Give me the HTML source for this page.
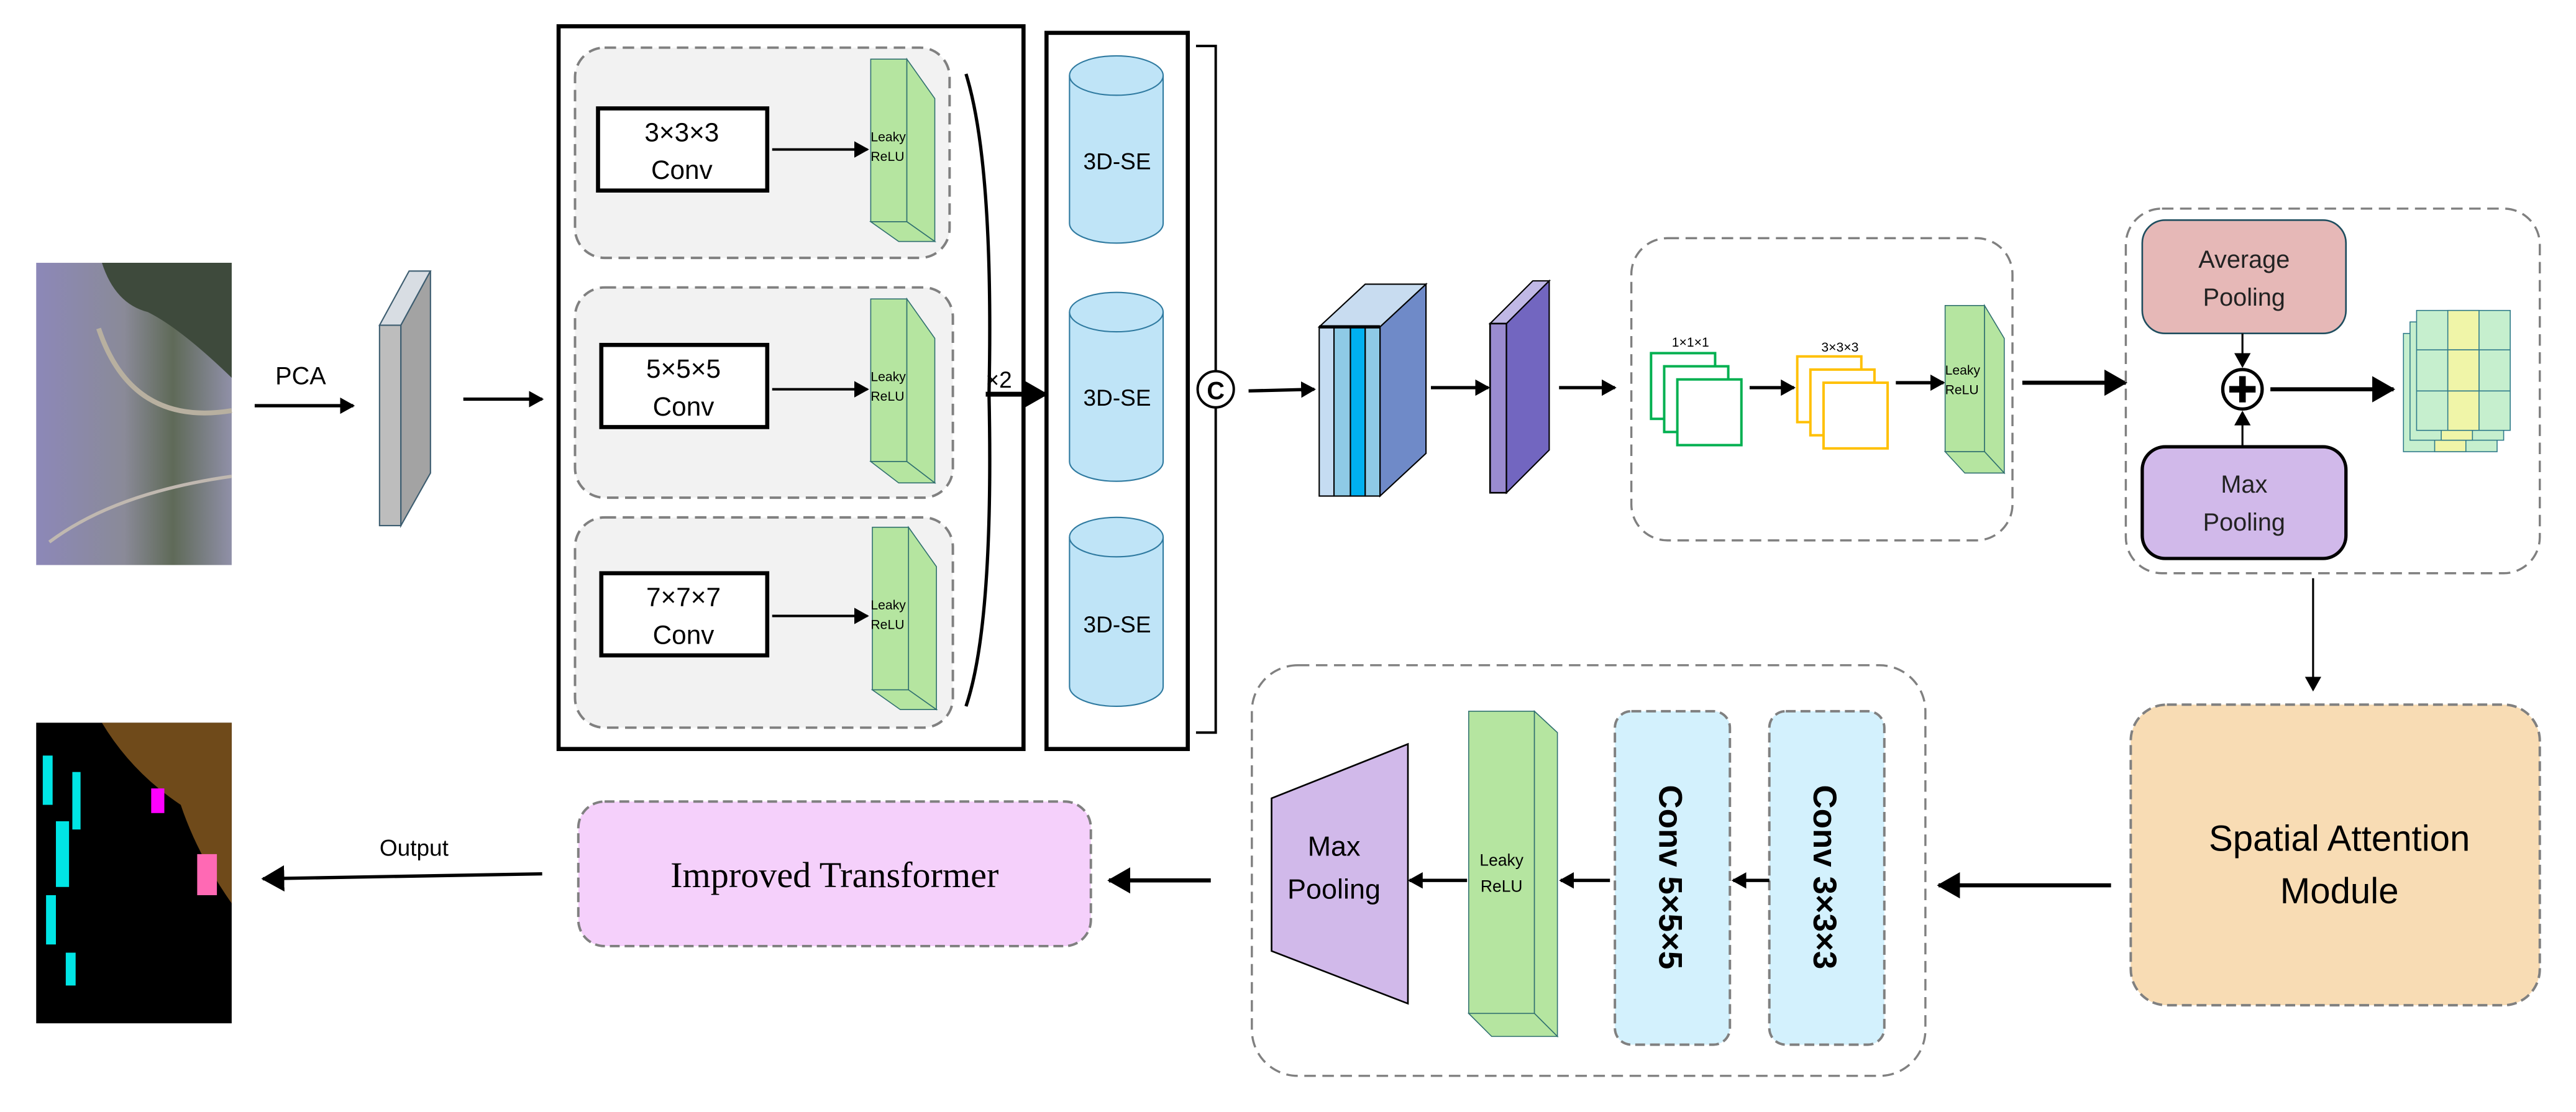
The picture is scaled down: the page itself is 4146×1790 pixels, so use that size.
<!DOCTYPE html>
<html><head><meta charset="utf-8"><style>html,body{margin:0;padding:0;background:#fff}svg{display:block}</style></head><body>
<svg width="4146" height="1790" viewBox="0 0 1568 677" xmlns="http://www.w3.org/2000/svg" font-family="Liberation Sans, sans-serif">
<defs>
<marker id="ah" markerWidth="10" markerHeight="10" refX="8" refY="5" orient="auto" markerUnits="userSpaceOnUse"><path d="M0,0 L9,5 L0,10 z" fill="#000"/></marker>
<marker id="ahb" markerWidth="16" markerHeight="16" refX="13" refY="8" orient="auto" markerUnits="userSpaceOnUse"><path d="M0,0 L14,8 L0,16 z" fill="#000"/></marker>
<linearGradient id="sat" x1="0" y1="0" x2="1" y2="0"><stop offset="0" stop-color="#8c88b8"/><stop offset="0.45" stop-color="#8a8a98"/><stop offset="0.7" stop-color="#5f6a58"/><stop offset="1" stop-color="#9090a8"/></linearGradient>
</defs>
<!-- satellite image -->
<rect x="22" y="160" width="119" height="184" fill="url(#sat)"/>
<path d="M62,160 L141,160 L141,230 Q110,200 90,190 Q70,185 62,160z" fill="#3e4a3c"/>
<path d="M60,200 Q80,260 141,250" stroke="#b8b0a0" stroke-width="3" fill="none"/>
<path d="M30,330 Q70,300 141,290" stroke="#c0b8b0" stroke-width="2" fill="none"/>
<!-- output map -->
<rect x="22" y="440" width="119" height="183" fill="#000"/>
<path d="M62,440 L141,440 L141,550 Q120,520 110,490 Q80,470 62,440z" fill="#6f4a1a"/>
<g fill="#00e5e5"><rect x="26" y="460" width="6" height="30"/><rect x="34" y="500" width="8" height="40"/><rect x="28" y="545" width="6" height="30"/><rect x="44" y="470" width="5" height="35"/><rect x="40" y="580" width="6" height="20"/></g>
<rect x="120" y="520" width="12" height="25" fill="#ff69b4"/><rect x="92" y="480" width="8" height="15" fill="#ff00ff"/>
<!-- PCA -->
<text x="183" y="234" font-size="15" text-anchor="middle">PCA</text>
<line x1="155" y1="247" x2="215" y2="247" stroke="#000" stroke-width="2" marker-end="url(#ah)"/>
<polygon points="231,198 244,198 262,165 249,165" fill="#d8dde3" stroke="#3d5d70" stroke-width="0.8"/>
<rect x="231" y="198" width="13" height="122" fill="#bdbdbd" stroke="#3d5d70" stroke-width="0.8"/>
<polygon points="244,198 262,165 262,288 244,320" fill="#a3a3a3" stroke="#3d5d70" stroke-width="0.8"/>
<line x1="282" y1="243" x2="330" y2="243" stroke="#000" stroke-width="2" marker-end="url(#ah)"/>
<!-- box 1 -->
<rect x="340" y="16" width="283" height="440" fill="#fff" stroke="#000" stroke-width="2.5"/>
<g fill="#f2f2f2" stroke="#808080" stroke-width="1.5" stroke-dasharray="7,4">
<rect x="350" y="29" width="228" height="128" rx="18"/>
<rect x="350" y="175" width="230" height="128" rx="18"/>
<rect x="350" y="315" width="230" height="128" rx="18"/>
</g>
<g font-size="16" text-anchor="middle">
<rect x="364" y="66" width="103" height="50" fill="#fff" stroke="#000" stroke-width="2.5"/>
<text x="415" y="86">3×3×3</text><text x="415" y="109">Conv</text>
<rect x="366" y="210" width="101" height="50" fill="#fff" stroke="#000" stroke-width="2.5"/>
<text x="416" y="230">5×5×5</text><text x="416" y="253">Conv</text>
<rect x="366" y="349" width="101" height="50" fill="#fff" stroke="#000" stroke-width="2.5"/>
<text x="416" y="369">7×7×7</text><text x="416" y="392">Conv</text>
</g>
<g stroke="#000" stroke-width="1.5"><line x1="470" y1="91" x2="528" y2="91" marker-end="url(#ah)"/><line x1="470" y1="237" x2="528" y2="237" marker-end="url(#ah)"/><line x1="470" y1="375" x2="528" y2="375" marker-end="url(#ah)"/></g>
<g stroke="#2f6f6f" stroke-width="0.6" fill="#b5e5a0">
<rect x="530" y="36" width="22" height="99"/><polygon points="552,36 569,60 569,147 552,135"/><polygon points="530,135 552,135 569,147 547,147"/>
<rect x="530" y="182" width="22" height="99"/><polygon points="552,182 569,206 569,294 552,281"/><polygon points="530,281 552,281 569,294 547,294"/>
<rect x="531" y="321" width="22" height="99"/><polygon points="553,321 570,345 570,432 553,420"/><polygon points="531,420 553,420 570,432 548,432"/>
</g>
<g font-size="8" font-family="Liberation Sans, sans-serif"><text x="530" y="86">Leaky</text><text x="530" y="98">ReLU</text><text x="530" y="232">Leaky</text><text x="530" y="244">ReLU</text><text x="530" y="371">Leaky</text><text x="530" y="383">ReLU</text></g>
<path d="M588,45 Q605,100 602,240 Q605,380 588,430" fill="none" stroke="#000" stroke-width="2"/>
<text x="600" y="236" font-size="14">×2</text>
<line x1="600" y1="240" x2="637" y2="240" stroke="#000" stroke-width="3" marker-end="url(#ahb)"/>
<!-- box 2 -->
<rect x="637" y="20" width="86" height="436" fill="#fff" stroke="#000" stroke-width="2.5"/>
<g fill="#bfe4f7" stroke="#2f7aa0" stroke-width="0.8">
<path d="M651,46 L651,136 A28.5,12 0 0 0 708,136 L708,46"/><ellipse cx="679.5" cy="46" rx="28.5" ry="12"/>
<path d="M651,190 L651,281 A28.5,12 0 0 0 708,281 L708,190"/><ellipse cx="679.5" cy="190" rx="28.5" ry="12"/>
<path d="M651,327 L651,418 A28.5,12 0 0 0 708,418 L708,327"/><ellipse cx="679.5" cy="327" rx="28.5" ry="12"/>
</g>
<g font-size="14" text-anchor="middle"><text x="680" y="103">3D-SE</text><text x="680" y="247">3D-SE</text><text x="680" y="385">3D-SE</text></g>
<path d="M728,28 L740,28 L740,446 L728,446" fill="none" stroke="#000" stroke-width="1.5"/>
<circle cx="740" cy="237" r="11" fill="#fff" stroke="#000" stroke-width="1.5"/>
<text x="740" y="243" font-size="15" font-weight="bold" text-anchor="middle">C</text>
<line x1="760" y1="238" x2="800" y2="237" stroke="#000" stroke-width="2" marker-end="url(#ah)"/>
<!-- blue block -->
<polygon points="840,199 868,173 868,276 840,302" fill="#6f8ac8" stroke="#000" stroke-width="0.8"/>
<polygon points="803,199 840,199 868,173 831,173" fill="#c8dcf0" stroke="#000" stroke-width="0.8"/>
<rect x="803" y="199" width="9" height="103" fill="#c5dcf2" stroke="#000" stroke-width="0.8"/>
<rect x="812" y="199" width="10" height="103" fill="#8ecae6" stroke="#000" stroke-width="0.8"/>
<rect x="822" y="199" width="9" height="103" fill="#00b0f0" stroke="#000" stroke-width="0.8"/>
<rect x="831" y="199" width="9" height="103" fill="#8ecae6" stroke="#000" stroke-width="0.8"/>
<line x1="803" y1="199" x2="840" y2="199" stroke="#000" stroke-width="2"/>
<line x1="871" y1="236" x2="906" y2="236" stroke="#000" stroke-width="2" marker-end="url(#ah)"/>
<polygon points="907,197 917,197 943,171 933,171" fill="#c0b8e6" stroke="#000" stroke-width="0.8"/>
<rect x="907" y="197" width="10" height="103" fill="#9a8bd0" stroke="#000" stroke-width="1"/>
<polygon points="917,197 943,171 943,274 917,300" fill="#7266c0" stroke="#000" stroke-width="0.8"/>
<line x1="949" y1="236" x2="983" y2="236" stroke="#000" stroke-width="2" marker-end="url(#ah)"/>
<!-- box 3 -->
<rect x="993" y="145" width="232" height="184" rx="22" fill="none" stroke="#808080" stroke-width="1.3" stroke-dasharray="7,4"/>
<text x="1029" y="211" font-size="8" text-anchor="middle">1×1×1</text>
<g fill="#fff" stroke="#00b050" stroke-width="1.5"><rect x="1005" y="215" width="39" height="40"/><rect x="1013" y="223" width="39" height="40"/><rect x="1021" y="231" width="39" height="40"/></g>
<line x1="1065" y1="236" x2="1092" y2="236" stroke="#000" stroke-width="2" marker-end="url(#ah)"/>
<text x="1120" y="214" font-size="8" text-anchor="middle">3×3×3</text>
<g fill="#fff" stroke="#ffc000" stroke-width="1.5"><rect x="1094" y="217" width="39" height="40"/><rect x="1102" y="225" width="39" height="40"/><rect x="1110" y="233" width="39" height="40"/></g>
<line x1="1154" y1="233" x2="1183" y2="233" stroke="#000" stroke-width="2" marker-end="url(#ah)"/>
<g stroke="#2f6f6f" stroke-width="0.6" fill="#b5e5a0"><rect x="1184" y="186" width="24" height="89"/><polygon points="1208,186 1220,206 1220,288 1208,275"/><polygon points="1184,275 1208,275 1220,288 1196,288"/></g>
<text x="1184" y="228" font-size="8">Leaky</text><text x="1184" y="240" font-size="8">ReLU</text>
<line x1="1231" y1="233" x2="1294" y2="233" stroke="#000" stroke-width="2.5" marker-end="url(#ahb)"/>
<!-- box 4 -->
<rect x="1294" y="127" width="252" height="222" rx="22" fill="none" stroke="#808080" stroke-width="1.3" stroke-dasharray="7,4"/>
<rect x="1304" y="134" width="124" height="69" rx="14" fill="#e6b8b7" stroke="#1f4e5f" stroke-width="1"/>
<text x="1366" y="163" font-size="15" text-anchor="middle" fill="#222">Average</text><text x="1366" y="186" font-size="15" text-anchor="middle" fill="#222">Pooling</text>
<rect x="1304" y="272" width="124" height="68" rx="14" fill="#d1b9ea" stroke="#000" stroke-width="2"/>
<text x="1366" y="300" font-size="15" text-anchor="middle" fill="#222">Max</text><text x="1366" y="323" font-size="15" text-anchor="middle" fill="#222">Pooling</text>
<line x1="1365" y1="203" x2="1365" y2="223" stroke="#000" stroke-width="1.2" marker-end="url(#ah)"/>
<line x1="1365" y1="272" x2="1365" y2="251" stroke="#000" stroke-width="1.2" marker-end="url(#ah)"/>
<circle cx="1365" cy="237" r="12" fill="#fff" stroke="#000" stroke-width="2"/>
<path d="M1365,229 V245 M1357,237 H1373" stroke="#000" stroke-width="4"/>
<line x1="1382" y1="237" x2="1457" y2="237" stroke="#000" stroke-width="2.5" marker-end="url(#ahb)"/>
<g stroke="#2f7a8a" stroke-width="0.6">
<rect x="1463" y="203" width="57" height="72" fill="#c6efce"/><rect x="1482" y="203" width="19" height="72" fill="#f0f5a8"/>
<rect x="1467" y="196" width="57" height="72" fill="#c6efce"/><rect x="1486" y="196" width="19" height="72" fill="#f0f5a8"/>
<rect x="1471" y="189" width="57" height="73" fill="#c6efce"/><rect x="1490" y="189" width="19" height="73" fill="#f0f5a8"/>
<line x1="1471" y1="213" x2="1528" y2="213"/><line x1="1471" y1="238" x2="1528" y2="238"/>
<rect x="1490" y="213" width="19" height="25" fill="#f0f5a8"/>
</g>
<line x1="1408" y1="352" x2="1408" y2="420" stroke="#000" stroke-width="1.2" marker-end="url(#ah)"/>
<!-- spatial attention -->
<rect x="1297" y="429" width="249" height="183" rx="22" fill="#f8dcb4" stroke="#808080" stroke-width="1.5" stroke-dasharray="6,3"/>
<text x="1424" y="518" font-size="22" text-anchor="middle">Spatial Attention</text>
<text x="1424" y="550" font-size="22" text-anchor="middle">Module</text>
<line x1="1285" y1="539" x2="1180" y2="539" stroke="#000" stroke-width="2.5" marker-end="url(#ahb)"/>
<!-- box 5 -->
<rect x="762" y="405" width="410" height="250" rx="28" fill="none" stroke="#808080" stroke-width="1.3" stroke-dasharray="7,4"/>
<rect x="1077" y="433" width="70" height="203" rx="10" fill="#d3f1fd" stroke="#808080" stroke-width="1.5" stroke-dasharray="6,3"/>
<rect x="983" y="433" width="70" height="203" rx="10" fill="#d3f1fd" stroke="#808080" stroke-width="1.5" stroke-dasharray="6,3"/>
<text transform="translate(1104,534) rotate(90)" font-size="20" font-weight="bold" text-anchor="middle">Conv 3×3×3</text>
<text transform="translate(1010,534) rotate(90)" font-size="20" font-weight="bold" text-anchor="middle">Conv 5×5×5</text>
<line x1="1077" y1="536" x2="1055" y2="536" stroke="#000" stroke-width="2" marker-end="url(#ah)"/>
<line x1="980" y1="536" x2="950" y2="536" stroke="#000" stroke-width="2" marker-end="url(#ah)"/>
<g stroke="#2f6f6f" stroke-width="0.6" fill="#b5e5a0"><rect x="894" y="433" width="40" height="184"/><polygon points="934,433 948,446 948,631 934,617"/><polygon points="894,617 934,617 948,631 908,631"/></g>
<text x="914" y="527" font-size="10" text-anchor="middle">Leaky</text><text x="914" y="543" font-size="10" text-anchor="middle">ReLU</text>
<line x1="893" y1="536" x2="858" y2="536" stroke="#000" stroke-width="2" marker-end="url(#ah)"/>
<polygon points="774,486 857,453 857,611 774,579" fill="#d1b9ea" stroke="#000" stroke-width="1"/>
<text x="812" y="521" font-size="17" text-anchor="middle">Max</text><text x="812" y="547" font-size="17" text-anchor="middle">Pooling</text>
<line x1="737" y1="536" x2="675" y2="536" stroke="#000" stroke-width="2.5" marker-end="url(#ahb)"/>
<rect x="352" y="488" width="312" height="88" rx="16" fill="#f5d0fb" stroke="#808080" stroke-width="1.5" stroke-dasharray="6,3"/>
<text x="508" y="540" font-size="22" text-anchor="middle" font-family="Liberation Serif, serif">Improved Transformer</text>
<line x1="330" y1="532" x2="160" y2="535" stroke="#000" stroke-width="2" marker-end="url(#ahb)"/>
<text x="252" y="521" font-size="14" text-anchor="middle">Output</text>
</svg>
</body></html>
